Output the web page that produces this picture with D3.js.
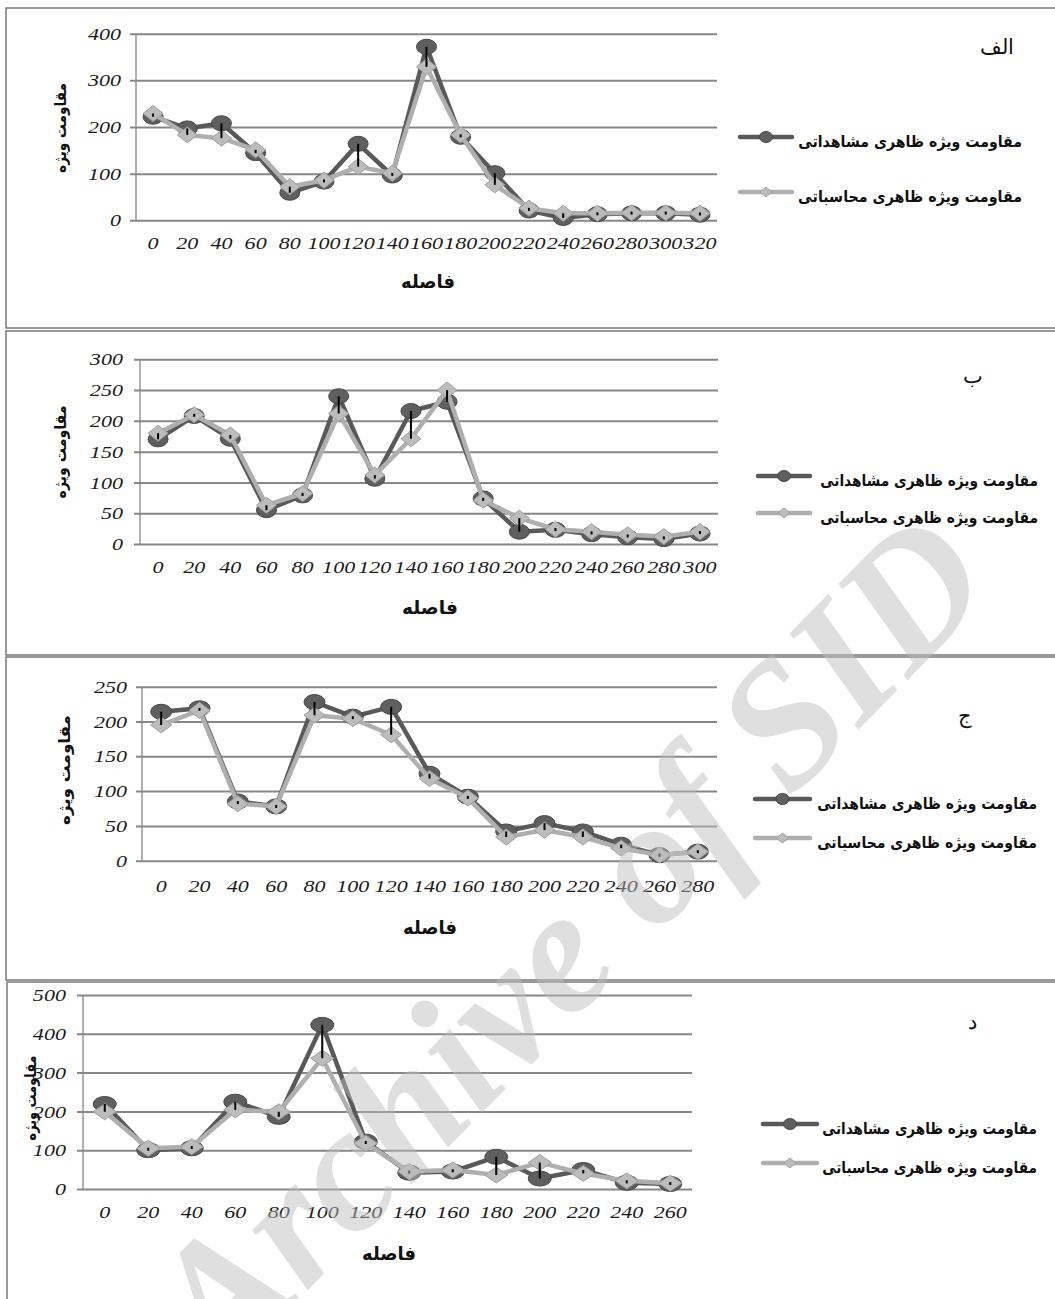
<!DOCTYPE html>
<html><head><meta charset="utf-8">
<script src="https://cdn.jsdelivr.net/npm/d3@7"></script>
<style>body{margin:0;background:#fff} svg{display:block}</style>
</head><body>
<svg id="c" width="1055" height="1299"></svg>
<script>
// ---------- data ----------
const dist1 = [0,20,40,60,80,100,120,140,160,180,200,220,240,260,280,300,320];
const obs1  = [222,197,208,144,59,83,164,96,372,179,101,21,5,13,15,15,12];
const calc1 = [229,183,176,151,72,86,115,101,329,183,76,26,15,15,16,16,15];
const yTicks1 = [0,100,200,300,400];

const dist2 = [0,20,40,60,80,100,120,140,160,180,200,220,240,260,280,300];
const obs2  = [170,208,171,55,79,240,106,216,231,74,20,23,16,11,8,17];
const calc2 = [180,210,177,63,82,212,112,171,250,71,42,24,20,15,12,20];
const yTicks2 = [0,50,100,150,200,250,300];

const dist3 = [0,20,40,60,80,100,120,140,160,180,200,220,240,260,280];
const obs3  = [214,219,85,78,228,207,221,125,92,42,54,42,23,8,13];
const calc3 = [195,216,82,78,209,204,181,118,90,34,44,34,18,8,13];
const yTicks3 = [0,50,100,150,200,250];

const dist4 = [0,20,40,60,80,100,120,140,160,180,200,220,240,260];
const obs4  = [219,100,105,225,186,423,122,42,45,83,27,49,16,13];
const calc4 = [199,105,109,204,199,337,118,45,49,36,68,40,21,15];
const yTicks4 = [0,100,200,300,400,500];

const panelTags = ["الف","ب","ج","د"];
const seriesNames = ["مقاومت ویژه ظاهری مشاهداتی","مقاومت ویژه ظاهری محاسباتی"];
const yTitleText = "مقاومت ویژه";
const xTitleText = "فاصله";
const watermarkText = "Archive of SID";

// ---------- layout ----------
const panels = [
  {cats:dist1, obs:obs1, calc:calc1, ticks:yTicks1, tag:panelTags[0],
   box:[6,8,1060,320], left:136, right:717, y0:220.3, yTop:33.7, gridStart:130, yLabGap:9, xLabY:243,
   rx:10, ry:7.5, yTitle:[60,128,90], xTitle:[428,281,54], tagPos:[997,47],
   leg:{x1:740,x2:792,y1:137,y2:192,tx:1022,w:224}},
  {cats:dist2, obs:obs2, calc:calc2, ticks:yTicks2, tag:panelTags[1],
   box:[6,331,1060,324], left:140, right:718, y0:544, yTop:359.3, gridStart:134, yLabGap:11, xLabY:567,
   rx:10, ry:7.5, yTitle:[60,452,93], xTitle:[430,607,56], tagPos:[973,376],
   leg:{x1:758,x2:810,y1:476,y2:513,tx:1038,w:218}},
  {cats:dist3, obs:obs3, calc:calc3, ticks:yTicks3, tag:panelTags[2],
   box:[6,657,1060,323], left:142, right:717, y0:860.7, yTop:686.7, gridStart:136, yLabGap:9, xLabY:886,
   rx:10.5, ry:7.5, yTitle:[64,770,110], xTitle:[430,927,54], tagPos:[965,716],
   leg:{x1:755,x2:810,y1:799,y2:838,tx:1037,w:220}},
  {cats:dist4, obs:obs4, calc:calc4, ticks:yTicks4, tag:panelTags[3],
   box:[7,982,1060,330], left:83, right:692, y0:1189, yTop:995, gridStart:77, yLabGap:11, xLabY:1212,
   rx:11.5, ry:7.5, yTitle:[30,1098,85], xTitle:[389,1253,54], tagPos:[972,1022],
   leg:{x1:763,x2:817,y1:1124,y2:1163,tx:1037,w:215}}
];

const DARK = "#595959", DARK_M = "#5f5f5f", DARK_E = "#474747";
const LIGHT = "#afafaf", LIGHT_M = "#bcbcbc", LIGHT_E = "#a0a0a0";
const GRID = "#878787";
const NUMFONT = "'Liberation Serif', 'Times New Roman', serif";
const FAFONT = "'DejaVu Sans', sans-serif";
const SX = 1.3;

const svg = d3.select("#c");

function diamond(cx, cy, rx, ry){
  return `M${cx},${cy-ry}L${cx+rx},${cy}L${cx},${cy+ry}L${cx-rx},${cy}Z`;
}
function fitX(sel, target){
  const w = sel.node().getComputedTextLength();
  return w > 0 ? target / w : 1;
}

panels.forEach(P => {
  const g = svg.append("g");
  g.append("rect").attr("x",P.box[0]).attr("y",P.box[1]).attr("width",P.box[2]).attr("height",P.box[3])
    .attr("fill","none").attr("stroke","#808080").attr("stroke-width",1.6);

  const x = d3.scaleBand().domain(P.cats).range([P.left, P.right]);
  const y = d3.scaleLinear().domain([0, P.ticks[P.ticks.length-1]]).range([P.y0, P.yTop]);
  const cx = d => x(d) + x.bandwidth()/2;

  // y axis + gridlines
  const ya = g.append("g").attr("transform",`translate(${P.gridStart},0)`)
    .call(d3.axisLeft(y).tickValues(P.ticks).tickSize(-(P.right-P.gridStart)).tickPadding(P.yLabGap));
  ya.select(".domain").remove();
  ya.selectAll(".tick line").attr("stroke",GRID).attr("stroke-width",2);
  ya.selectAll(".tick text").attr("x", -P.yLabGap/SX).attr("dy","0.33em")
    .attr("transform",`scale(${SX},1)`)
    .attr("font-family",NUMFONT).attr("font-style","italic").attr("font-size",17).attr("fill","#1a1a1a");

  // vertical axis line
  g.append("line").attr("x1",P.left).attr("x2",P.left).attr("y1",P.y0).attr("y2",P.yTop)
    .attr("stroke",GRID).attr("stroke-width",1.3);

  // x axis labels
  const xa = g.append("g").attr("transform",`translate(0,${P.y0})`)
    .call(d3.axisBottom(x).tickSize(0).tickPadding(0));
  xa.select(".domain").remove();
  xa.selectAll(".tick text").attr("y", P.xLabY - P.y0).attr("dy","0.33em")
    .attr("transform",`scale(${SX},1)`)
    .attr("font-family",NUMFONT).attr("font-style","italic").attr("font-size",17).attr("fill","#1a1a1a");

  const dObs = P.cats.map((c,i)=>({c, v:P.obs[i]}));
  const dCalc = P.cats.map((c,i)=>({c, v:P.calc[i]}));
  const line = d3.line().x(d=>cx(d.c)).y(d=>y(d.v));

  // observed series
  g.append("path").datum(dObs).attr("d",line).attr("fill","none").attr("stroke",DARK)
    .attr("stroke-width",4.5).attr("stroke-linejoin","round");
  g.selectAll(null).data(dObs).enter().append("ellipse")
    .attr("cx",d=>cx(d.c)).attr("cy",d=>y(d.v)).attr("rx",P.rx).attr("ry",P.ry)
    .attr("fill",DARK_M).attr("stroke",DARK_E).attr("stroke-width",1);

  // calculated series
  g.append("path").datum(dCalc).attr("d",line).attr("fill","none").attr("stroke",LIGHT)
    .attr("stroke-width",4.5).attr("stroke-linejoin","round");
  g.selectAll(null).data(dCalc).enter().append("path")
    .attr("d",d=>diamond(cx(d.c), y(d.v), P.rx, P.ry+0.5))
    .attr("fill",LIGHT_M).attr("stroke",LIGHT_E).attr("stroke-width",1).attr("stroke-linejoin","round");

  // high-low lines
  g.selectAll(null).data(P.cats).enter().append("line")
    .each(function(c,i){
      let a = y(P.obs[i]), b = y(P.calc[i]);
      if (Math.abs(a-b) < 3){ const m=(a+b)/2; a=m-1.5; b=m+1.5; }
      d3.select(this).attr("x1",cx(c)).attr("x2",cx(c)).attr("y1",a).attr("y2",b);
    })
    .attr("stroke","#000").attr("stroke-width",2);

  // titles
  const yt = g.append("text").text(yTitleText).attr("text-anchor","middle").attr("dy","0.35em")
    .attr("font-family",FAFONT).attr("font-weight","bold").attr("font-size",16).attr("fill","#111");
  const kY = fitX(yt, P.yTitle[2]);
  yt.attr("transform",`translate(${P.yTitle[0]},${P.yTitle[1]}) rotate(-90) scale(${kY},1)`);

  const xt = g.append("text").text(xTitleText).attr("text-anchor","middle").attr("dy","0.35em")
    .attr("font-family",FAFONT).attr("font-weight","bold").attr("font-size",19).attr("fill","#111");
  const kX = fitX(xt, P.xTitle[2]);
  xt.attr("transform",`translate(${P.xTitle[0]},${P.xTitle[1]}) scale(${kX},1)`);

  g.append("text").text(P.tag).attr("x",P.tagPos[0]).attr("y",P.tagPos[1]).attr("dy","0.35em")
    .attr("text-anchor","middle").attr("font-family","'DejaVu Serif', serif").attr("font-size",21).attr("fill","#111");

  // legend
  const L = P.leg;
  [[L.y1, DARK, 0],[L.y2, LIGHT, 1]].forEach(([ly, col, k])=>{
    g.append("line").attr("x1",L.x1).attr("x2",L.x2).attr("y1",ly).attr("y2",ly)
      .attr("stroke",col).attr("stroke-width",4.5).attr("stroke-linecap","round");
    const mx = (L.x1+L.x2)/2;
    if (k===0) g.append("ellipse").attr("cx",mx).attr("cy",ly).attr("rx",6.5).attr("ry",5.5)
      .attr("fill",DARK_M).attr("stroke",DARK_E);
    else g.append("path").attr("d",diamond(mx,ly,6,5)).attr("fill",LIGHT_M).attr("stroke",LIGHT_E);
    const t = g.append("text").text(seriesNames[k]).attr("text-anchor","end").attr("dy","0.35em")
      .attr("font-family",FAFONT).attr("font-weight","bold").attr("font-size",16).attr("fill","#111");
    const kk = fitX(t, L.w);
    t.attr("transform",`translate(${L.tx},${ly+4}) scale(${kk},1)`);
  });
});

// watermark
svg.append("text").text(watermarkText)
  .attr("transform","translate(572,945) rotate(-45.5)")
  .attr("text-anchor","middle").attr("dy","0.3em")
  .attr("font-family","'Liberation Serif', serif").attr("font-weight","bold").attr("font-style","italic")
  .attr("font-size",178).attr("fill","#bdbdbd").attr("opacity",0.48);
</script>
</body></html>
